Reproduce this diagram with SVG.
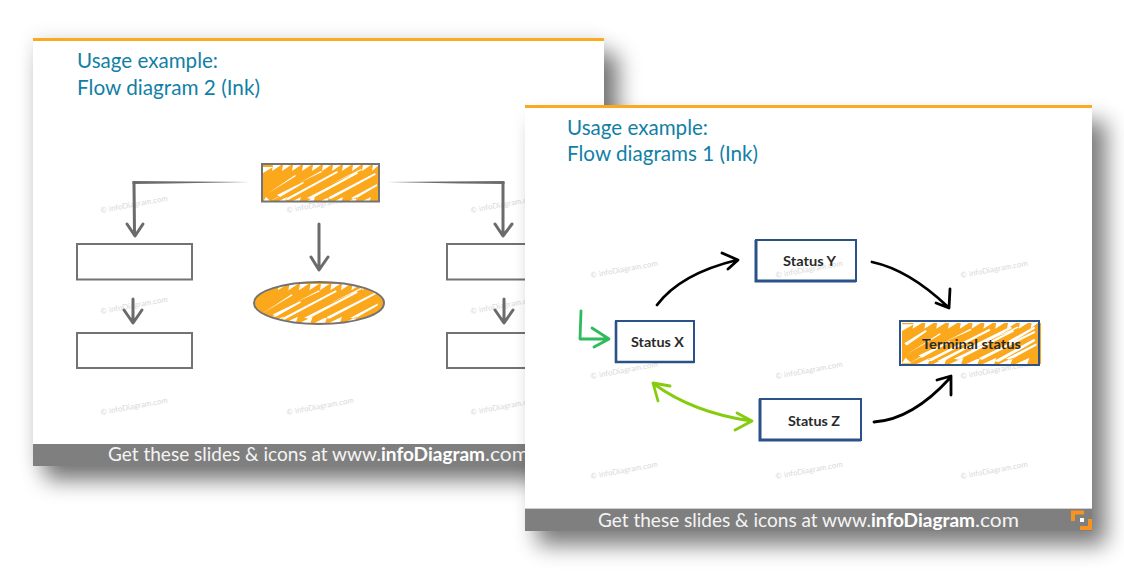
<svg xmlns="http://www.w3.org/2000/svg" width="1124" height="572" viewBox="0 0 1124 572">
<style>
text{font-family:"Lato","Open Sans","Liberation Sans",sans-serif}
.title{font-size:20.500px;fill:#137fa6}
.foot{font-size:19px;fill:#f4f4f4;font-weight:400}
.footb{font-size:19px;fill:#fff;font-weight:700}
.wm{font-size:7.800px;fill:#d8d8d8;letter-spacing:.1px}
.status{font-size:14px;font-weight:700;fill:#2a2a2a}
.gbox{fill:none;stroke:#737373;stroke-width:2}
.bbox{fill:none;stroke:#2b5288;stroke-width:2}
.gline{fill:none;stroke:#6b6b6b;stroke-width:3;stroke-linecap:round;stroke-linejoin:round}
.kline{fill:none;stroke:#000;stroke-width:2.800;stroke-linecap:round;stroke-linejoin:round}
.lline{fill:none;stroke:#84cc0c;stroke-width:2.800;stroke-linecap:round;stroke-linejoin:round}
.eline{fill:none;stroke:#2dbb5c;stroke-width:2.800;stroke-linecap:round;stroke-linejoin:round}
.scr{fill:#fff;stroke:none}
</style>
<defs>
<filter id="blur" x="-20%" y="-20%" width="140%" height="140%"><feGaussianBlur stdDeviation="11"/></filter>
<filter id="glow" x="-20%" y="-20%" width="140%" height="140%"><feGaussianBlur stdDeviation="10"/></filter>
<clipPath id="ec"><ellipse cx="319" cy="303" rx="65" ry="21"/></clipPath>
<clipPath id="r1"><rect x="262" y="164" width="118" height="38"/></clipPath>
<clipPath id="r2"><rect x="900" y="321" width="141" height="44"/></clipPath>
<g id="wmk"><text class="wm" transform="rotate(-10.5)">© infoDiagram.com</text></g>
<path id="sl" d="M0 9 L10 3 L0 3Z M9 7 L18 1 L10 1Z M19 7 L28 1 L20 1Z M29 7 L38 1 L30 1Z M39 7 L48 1 L40 1Z M49 7 L58 1 L50 1Z M59 7 L68 1 L60 1Z M69 7 L78 1 L70 1Z M79 7 L88 1 L80 1Z M89 7 L98 1 L90 1Z M99 7 L108 1 L100 1Z M109 7 L116 1 L110 1Z M0 38 L8 38 L3 33Z M12 39 L22 39 L24 33Z M26 39 L36 39 L38 33Z M40 39 L50 39 L52 33Z M54 39 L64 39 L66 33Z M68 39 L78 39 L80 33Z M82 39 L92 39 L94 33Z M96 39 L106 39 L108 33Z M4 30 L32 11 L33 12Z M14 31 L40 18 L41 19 L17 33Z M22 35 L74 7 L75 8.500 L25 36Z M36 19 L58 7 L59 8Z M44 34 L94 8 L95 9.500 L48 35Z M64 34 L112 9 L113 10.500 L68 35Z M68 20 L98 5 L99 6Z M88 34 L114 20 L114 22 L92 35Z M6 38 L26 26 L27 27Z"/>
<g id="sl2"><use href="#sl"/><path d="M2 20 L20 8 L21 9.500 L4 22Z M30 36 L58 21 L60 22 L34 37Z M56 24 L92 5 L93 6.500 L60 26Z M78 36 L112 16 L113 18 L82 37Z M90 18 L112 5 L113 6.500 L92 20Z"/></g>
</defs>

<g id="slide-flow-2">
<rect x="45" y="54" width="573" height="426" fill="#000" opacity=".52" filter="url(#blur)"/>
<rect x="33" y="38" width="571" height="428" fill="#000" opacity=".1" filter="url(#glow)"/>
<rect x="33" y="38" width="571" height="428" fill="#fff"/>
<rect x="33" y="38" width="571" height="3" fill="#fbaa1f"/>
<text class="title" x="77" y="67.500" textLength="141" lengthAdjust="spacingAndGlyphs">Usage example:</text>
<text class="title" x="77" y="94.500" textLength="183" lengthAdjust="spacingAndGlyphs">Flow diagram 2 (Ink)</text>
<use href="#wmk" x="101" y="213"/><use href="#wmk" x="287" y="213"/><use href="#wmk" x="471" y="213"/>
<use href="#wmk" x="101" y="314"/><use href="#wmk" x="471" y="314"/>
<use href="#wmk" x="101" y="415"/><use href="#wmk" x="287" y="415"/><use href="#wmk" x="471" y="415"/>
<g id="s2-connectors">
<path class="gline" d="M134 182.500 L134.500 234 M127 224 L135 236 L143 224"/>
<path class="gline" d="M503 182.500 L503 234 M495 224 L503 236 L512 224"/>
<path d="M250 182 L132.500 181 L132.500 184 L170 183.500Z M387 182 L504.500 181 L504.500 184 L460 183.500Z" fill="#6b6b6b"/>
<path class="gline" d="M319 224 L319 268 M311 257 L319 270 L328 257"/>
<path class="gline" d="M133 299 L133 321 M124 310 L133 323 L142 310"/>
<path class="gline" d="M504 299 L504 321 M495 310 L504 323 L513 310"/>
</g>
<g id="s2-start">
<g clip-path="url(#r1)"><rect x="263" y="165" width="117" height="36" fill="#fca81c"/>
<use href="#sl" class="scr" transform="translate(263 164)"/></g>
<rect class="gbox" x="262" y="164" width="117" height="37.500"/>
</g>
<g id="s2-ellipse">
<g clip-path="url(#ec)"><rect x="254" y="282" width="131" height="43" fill="#fca81c"/>
<use href="#sl" class="scr" transform="translate(258 283) scale(1.050 1.020)"/></g>
<ellipse class="gbox" cx="319" cy="303" rx="65" ry="21"/>
</g>
<g id="s2-box-l1"><rect class="gbox" x="77" y="244" width="115" height="35.500"/></g>
<g id="s2-box-l2"><rect class="gbox" x="77" y="333" width="115" height="35"/></g>
<g id="s2-box-r1"><rect class="gbox" x="447" y="244" width="115" height="35.500"/></g>
<g id="s2-box-r2"><rect class="gbox" x="447" y="333" width="115" height="35"/></g>
<rect x="33" y="444" width="571" height="22" fill="#7f7f7f"/>
<text class="foot" x="108" y="461" textLength="273" lengthAdjust="spacingAndGlyphs">Get these slides &amp; icons at www.</text>
<text class="footb" x="381" y="461" textLength="104" lengthAdjust="spacingAndGlyphs">infoDiagram</text>
<text class="foot" x="485" y="461" textLength="44" lengthAdjust="spacingAndGlyphs">.com</text>
</g>

<g id="slide-flow-1">
<rect x="537" y="121" width="569" height="424" fill="#000" opacity=".52" filter="url(#blur)"/>
<rect x="525" y="105" width="567" height="426" fill="#fff"/>
<rect x="525" y="105" width="567" height="3" fill="#fbaa1f"/>
<text class="title" x="567" y="134.500" textLength="141" lengthAdjust="spacingAndGlyphs">Usage example:</text>
<text class="title" x="567" y="160.500" textLength="191" lengthAdjust="spacingAndGlyphs">Flow diagrams 1 (Ink)</text>
<use href="#wmk" x="591" y="278"/><use href="#wmk" x="776" y="278"/><use href="#wmk" x="961" y="278"/>
<use href="#wmk" x="591" y="379"/><use href="#wmk" x="776" y="379"/><use href="#wmk" x="961" y="379"/>
<use href="#wmk" x="591" y="479"/><use href="#wmk" x="776" y="479"/><use href="#wmk" x="961" y="479"/>
<g id="s1-connectors">
<path class="eline" d="M581 311 L580 339 L608 339 M592 328 L609 339 L594 347"/>
<path class="kline" d="M657 305 C672 285 700 269 737 260 M722 253 L738 260 L728 269"/>
<path class="kline" d="M872 262 C900 268 925 285 948 307 M950 289 L949 308 L936 303"/>
<path class="kline" d="M874 422 C905 420 930 400 950 378 M937 380 L951 376 L951 395"/>
<path class="lline" d="M654 384 C680 403 710 415 751 421 M658 401 L653 383 L670 386 M737 413 L752 421 L735 430"/>
</g>
<g id="s1-status-y">
<rect class="bbox" x="756" y="240" width="100" height="41"/>
<path d="M756 240 V281 H856" fill="none" stroke="#2b5288" stroke-width="3"/>
<text class="status" x="783" y="266" textLength="53" lengthAdjust="spacingAndGlyphs">Status Y</text>
</g>
<g id="s1-status-x">
<rect class="bbox" x="616" y="321" width="78" height="41"/>
<path d="M616 321 V362 H694" fill="none" stroke="#2b5288" stroke-width="2.600"/>
<text class="status" x="631" y="347" textLength="53" lengthAdjust="spacingAndGlyphs">Status X</text>
</g>
<g id="s1-status-z">
<rect class="bbox" x="760" y="399" width="101" height="41"/>
<path d="M760 399 V440 H861" fill="none" stroke="#2b5288" stroke-width="3"/>
<text class="status" x="788" y="426" textLength="52" lengthAdjust="spacingAndGlyphs">Status Z</text>
</g>
<g id="s1-terminal">
<g clip-path="url(#r2)"><rect x="902" y="323" width="139" height="41" fill="#fca81c"/>
<use href="#sl2" class="scr" transform="translate(902 321) scale(1.180 1.110)"/></g>
<rect class="bbox" x="900" y="321" width="139" height="44"/>
<text class="status" x="922" y="349" textLength="99" lengthAdjust="spacingAndGlyphs">Terminal status</text>
</g>
<rect x="525" y="509" width="567" height="22" fill="#7f7f7f"/>
<rect x="525" y="508" width="567" height="1" fill="#cfcfcf"/>
<text class="foot" x="598" y="527" textLength="273" lengthAdjust="spacingAndGlyphs">Get these slides &amp; icons at www.</text>
<text class="footb" x="871" y="527" textLength="104" lengthAdjust="spacingAndGlyphs">infoDiagram</text>
<text class="foot" x="975" y="527" textLength="44" lengthAdjust="spacingAndGlyphs">.com</text>
<path d="M1073 521 V512.500 H1084" fill="none" stroke="#f7931e" stroke-width="4"/>
<path d="M1080 528 H1090 V519" fill="none" stroke="#f7931e" stroke-width="4"/>
<rect x="1080" y="518" width="4" height="4" fill="#fff"/>
</g>
</svg>
